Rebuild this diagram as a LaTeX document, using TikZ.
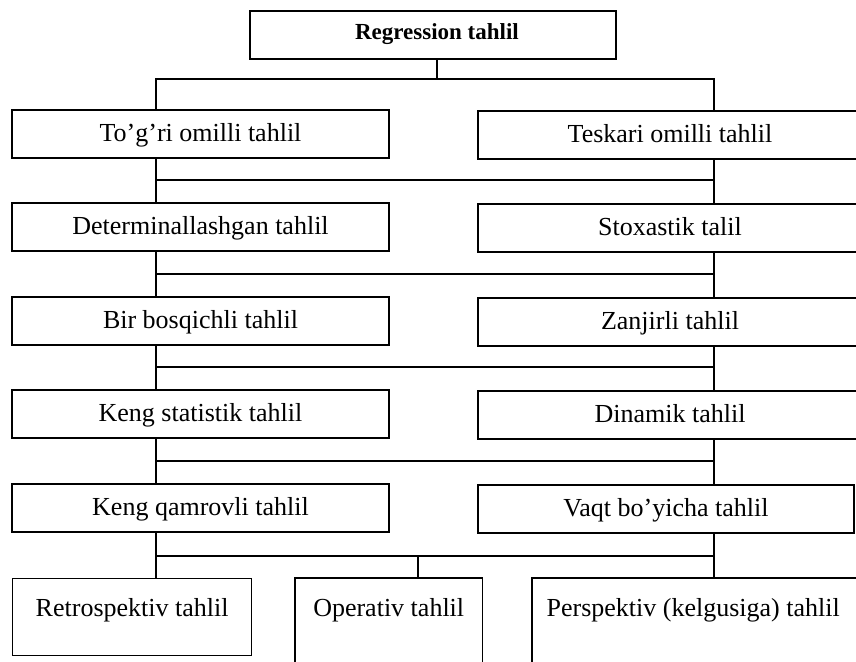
\documentclass[tikz,border=0pt]{standalone}
\usepackage{fontspec}
\setmainfont{Liberation Serif}
\begin{document}
\begin{tikzpicture}[x=1pt,y=-1pt,
  lab/.style={font=\fontsize{26}{30}\selectfont, text height=19pt, text depth=5pt},
  bx/.style={draw, line width=1.3pt, inner sep=0pt, minimum height=48pt, lab},
  lbx/.style={bx, minimum width=377pt},
  rbx/.style={bx, minimum width=384pt},
  txt/.style={inner sep=0pt, lab},
  ln/.style={line width=1.3pt}]
\useasboundingbox (0,0) rectangle (856,661);
\coordinate (cl) at (156,0);
\coordinate (cr) at (714,0);
\coordinate (cm) at (418,0);
% top
\node[draw, line width=1.3pt, minimum width=366pt, minimum height=48pt, inner sep=0pt] (top) at (433,35) {};
\node[inner sep=0pt, font=\bfseries\fontsize{23}{27}\selectfont, text height=16pt, text depth=5pt] (topT) at (437,34) {Regression tahlil};
% rows
\node[lbx] (l1) at (200.5,134) {To’g’ri omilli tahlil};
\node[rbx] (r1) at (670,135) {Teskari omilli tahlil};
\node[lbx] (l2) at (200.5,227) {Determinallashgan tahlil};
\node[rbx] (r2) at (670,228) {Stoxastik talil};
\node[lbx] (l3) at (200.5,321) {Bir bosqichli tahlil};
\node[rbx] (r3) at (670,322) {Zanjirli tahlil};
\node[lbx] (l4) at (200.5,414) {Keng statistik tahlil};
\node[rbx] (r4) at (670,415) {Dinamik tahlil};
\node[lbx] (l5) at (200.5,508) {Keng qamrovli tahlil};
\node[bx, minimum width=376pt] (r5) at (666,509) {Vaqt bo’yicha tahlil};
% bottom row
\node[draw, line width=1.3pt, minimum width=239pt, minimum height=77pt, inner sep=0pt, anchor=north west] (retro) at (12,578) {};
\node[txt] (retroT) at ([yshift=-31pt]retro.north) {Retrospektiv tahlil};
\node[minimum width=187pt, minimum height=90pt, inner sep=0pt, anchor=north west] (oper) at (295,578) {};
\draw[ln] (oper.south west) |- (oper.north east) -- (oper.south east);
\node[txt] (operT) at ([yshift=-31pt]oper.north) {Operativ tahlil};
\node[minimum width=330pt, minimum height=90pt, inner sep=0pt, anchor=north west] (persp) at (532,578) {};
\draw[ln] (persp.south west) |- (persp.north east);
\node[txt] (perspT) at ([yshift=-31pt, xshift=-4pt]persp.north) {Perspektiv (kelgusiga) tahlil};
% junction lines
\coordinate (j0) at (437,79);
\coordinate (j1) at (0,180);
\coordinate (j2) at (0,274);
\coordinate (j3) at (0,367);
\coordinate (j4) at (0,461);
\coordinate (j5) at (0,556);
\draw[ln] (top.south -| j0) -- (j0);
\draw[ln] (l1.north -| cl) -- (j0 -| cl) -- (j0 -| cr) -- (r1.north -| cr);
\foreach \a/\b/\j in {1/2/j1,2/3/j2,3/4/j3,4/5/j4}{
  \draw[ln] (l\a.south -| cl) -- (l\b.north -| cl);
  \draw[ln] (r\a.south -| cr) -- (r\b.north -| cr);
  \draw[ln] (\j -| cl) -- (\j -| cr);
}
\draw[ln] (l5.south -| cl) -- (retro.north -| cl);
\draw[ln] (r5.south -| cr) -- (persp.north -| cr);
\draw[ln] (j5 -| cl) -- (j5 -| cr);
\draw[ln] (j5 -| cm) -- (oper.north -| cm);
\end{tikzpicture}
\end{document}
